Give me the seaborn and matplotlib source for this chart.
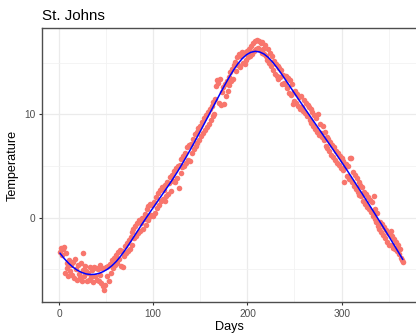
import numpy as np
import pandas as pd
import seaborn as sns
import matplotlib.pyplot as plt

# Daily mean temperature, St. Johns (day 1..365)
temp_days_1_100 = [
    -3.3, -2.9, -3.6, -3.0, -2.8, -5.3, -3.4, -4.4, -4.9, -5.6,
    -4.1, -5.2, -4.6, -5.5, -4.3, -5.8, -4.0, -5.0, -6.0, -4.6,
    -5.4, -5.8, -4.4, -6.1, -5.1, -3.4, -5.6, -4.7, -5.2, -6.1,
    -5.3, -6.0, -4.8, -5.7, -5.1, -6.2, -4.8, -5.6, -4.9, -6.0,
    -5.0, -6.1, -4.6, -5.5, -6.3, -4.9, -6.6, -7.0, -6.5, -4.8,
    -5.6, -4.7, -6.1, -4.5, -5.3, -4.1, -4.9, -3.9, -4.6, -4.3,
    -3.6, -4.4, -3.3, -4.0, -3.1, -4.7, -3.2, -4.8, -3.7, -2.7,
    -3.4, -2.4, -3.2, -2.2, -3.0, -1.9, -1.4, -2.6, -1.1, -2.0,
    -0.8, -1.8, -0.5, -1.5, -0.2, -1.3, -0.5, 0.0, -1.1, -0.1,
    0.4, -0.7, 0.8, -0.2, 1.1, 0.1, 1.3, 0.3, 1.2, 0.2,
]
temp_days_101_200 = [
    1.5, 0.5, 2.0, 0.9, 2.4, 1.2, 2.7, 1.6, 3.0, 1.8,
    2.7, 1.6, 3.2, 2.1, 3.5, 2.3, 3.4, 3.9, 2.6, 4.1,
    3.6, 4.5, 3.5, 4.8, 3.8, 5.0, 2.9, 5.1, 4.3, 5.7,
    4.9, 6.0, 5.0, 6.3, 5.3, 6.8, 5.6, 7.0, 5.5, 7.1,
    6.3, 7.6, 6.6, 8.1, 6.9, 8.3, 7.2, 8.7, 7.5, 8.9,
    7.9, 9.3, 8.2, 9.6, 8.5, 9.9, 8.8, 10.2, 9.1, 10.5,
    9.5, 10.8, 9.8, 11.2, 10.0, 11.5, 12.7, 13.3, 13.0, 11.1,
    13.4, 10.9, 12.2, 12.6, 11.0, 12.9, 11.8, 13.2, 12.3, 13.6,
    12.8, 14.1, 13.2, 14.4, 13.4, 14.8, 15.1, 14.2, 15.5, 14.8,
    15.8, 14.6, 15.6, 16.0, 15.0, 15.9, 14.9, 16.0, 15.3, 16.1,
]
temp_days_201_300 = [
    15.5, 16.3, 15.6, 16.6, 15.8, 16.9, 16.1, 17.1, 16.3, 17.2,
    16.4, 17.1, 16.2, 16.9, 15.9, 17.0, 16.3, 15.8, 16.7, 15.6,
    15.3, 16.3, 15.0, 15.9, 14.7, 15.6, 14.3, 15.2, 13.9, 14.9,
    13.7, 14.7, 13.4, 14.5, 13.6, 14.3, 12.9, 13.8, 13.0, 12.9,
    13.7, 12.5, 13.5, 12.1, 13.3, 11.9, 12.9, 11.0, 12.2, 11.3,
    12.3, 11.1, 12.0, 10.8, 11.7, 10.5, 11.8, 10.7, 10.3, 11.4,
    10.1, 11.1, 9.8, 10.9, 10.7, 9.5, 10.5, 9.2, 10.2, 8.9,
    9.9, 8.6, 9.6, 8.3, 10.0, 8.0, 9.1, 8.2, 7.8, 8.9,
    7.5, 8.3, 6.9, 7.8, 6.7, 7.6, 6.5, 7.3, 6.1, 7.0,
    5.9, 6.8, 5.6, 6.5, 5.3, 6.3, 5.1, 6.0, 4.8, 5.8,
]
temp_days_301_365 = [
    4.6, 5.5, 3.5, 4.9, 5.2, 4.0, 5.0, 3.7, 5.8, 5.8,
    3.5, 4.4, 3.1, 4.1, 2.8, 3.8, 2.5, 3.5, 2.2, 3.2,
    2.1, 3.0, 1.6, 2.5, 1.3, 2.3, 1.0, 2.0, 0.8, 1.7,
    0.6, 1.5, 0.2, 2.1, -0.1, 0.8, -0.4, 0.5, -0.8, -1.1,
    -0.4, -1.4, -0.6, -1.7, -0.9, -2.0, -1.2, -2.3, -1.5, -2.6,
    -1.6, -1.3, -2.6, -1.8, -2.9, -2.1, -3.0, -2.3, -3.2, -2.6,
    -3.5, -3.0, -3.9, -4.1, -4.3,
]
temps = temp_days_1_100 + temp_days_101_200 + temp_days_201_300 + temp_days_301_365
days = list(range(1, len(temps) + 1))
x_ticks = [0, 100, 200, 300]
y_ticks = [0, 10]

df = pd.DataFrame({'Days': days, 'Temperature': temps})


# local quadratic smoother with tricube weights (loess-style)
def loess(x, y, grid, span=0.33):
    q = int(np.floor(len(x) * span))
    fit = []
    for x0 in grid:
        d = np.abs(x - x0)
        h = np.sort(d)[q - 1]
        w = np.sqrt(np.clip(1 - (d / h) ** 3, 0, None) ** 3)
        X = np.column_stack([np.ones_like(x), x - x0, (x - x0) ** 2])
        beta = np.linalg.lstsq(X * w[:, None], y * w, rcond=None)[0]
        fit.append(beta[0])
    return np.array(fit)


xv = df['Days'].to_numpy(float)
grid = np.linspace(xv.min(), xv.max(), 80)
smooth = pd.DataFrame({'Days': grid,
                       'Temperature': loess(xv, df['Temperature'].to_numpy(float), grid)})

sns.set_style('white')
plt.rcParams['font.family'] = ['Liberation Sans', 'DejaVu Sans']

fig = plt.figure(figsize=(4.16, 3.33), dpi=100)
ax = fig.add_axes([42 / 416, 1 - 302.3 / 333, 374 / 416, (302.3 - 28) / 333])

sns.scatterplot(data=df, x='Days', y='Temperature', ax=ax, color='#F8766D',
                s=16, linewidth=0, alpha=1, zorder=3)
sns.lineplot(data=smooth, x='Days', y='Temperature', ax=ax, color='blue',
             linewidth=1.1, zorder=4)

ax.set_xlim(-18.05, 379.0)
ax.set_ylim(-8.18, 18.35)
ax.set_xticks(x_ticks)
ax.set_yticks(y_ticks)
ax.set_xticks([50, 150, 250, 350], minor=True)
ax.set_yticks([-5, 5, 15], minor=True)
ax.grid(True, which='major', color='#EBEBEB', linewidth=0.9)
ax.grid(True, which='minor', color='#F2F2F2', linewidth=0.6)
ax.set_axisbelow(True)

for side in ['left', 'top', 'bottom']:
    ax.spines[side].set_color('#4D4D4D')
    ax.spines[side].set_linewidth(1.0)
ax.spines['right'].set_visible(False)

ax.tick_params(axis='both', which='major', length=2.5, width=0.8, color='#333333',
               labelsize=7.3, labelcolor='#4D4D4D', pad=2, left=True, bottom=True)
ax.tick_params(axis='both', which='minor', length=0)

ax.set_xlabel('Days', fontsize=9.1, color='black', labelpad=2)
ax.set_ylabel('Temperature', fontsize=9.1, color='black', labelpad=4)
ax.set_title('St. Johns', loc='left', fontsize=10.9, color='black', pad=6)

fig.savefig('out.png', dpi=100)
